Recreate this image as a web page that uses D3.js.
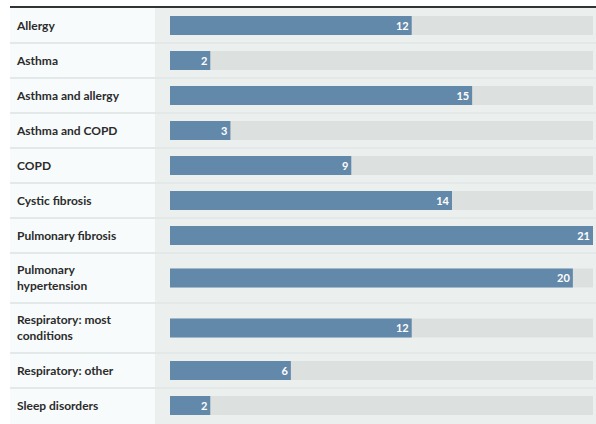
<!DOCTYPE html>
<html><head><meta charset="utf-8">
<script src="https://cdn.jsdelivr.net/npm/d3@7"></script>
<style>
html,body{margin:0;padding:0;background:#fff;}
svg{display:block;}
</style>
</head><body>
<svg id="chart" width="596" height="424"></svg>
<script>
const categories = ["Allergy","Asthma","Asthma and allergy","Asthma and COPD","COPD","Cystic fibrosis","Pulmonary fibrosis","Pulmonary hypertension","Respiratory: most conditions","Respiratory: other","Sleep disorders"];
const values = [12,2,15,3,9,14,21,20,12,6,2];
const maxValue = 21;

(function () {
const W = 596, H = 424;
const leftX = 10, topY = 8, colSplit = 155, barStart = 170, barEnd = 593;
const fontFamily = "Lato, 'Open Sans', sans-serif";
const labelSize = 12;
const svg = d3.select("#chart");

const measure = svg.append("text").attr("font-family", fontFamily).attr("font-weight", 700).attr("font-size", labelSize);
function wrap(str, maxW) {
  const words = str.split(" ");
  const lines = [];
  let cur = "";
  for (const w of words) {
    const t = cur ? cur + " " + w : w;
    measure.text(t);
    if (measure.node().getComputedTextLength() > maxW && cur) { lines.push(cur); cur = w; }
    else cur = t;
  }
  lines.push(cur);
  return lines;
}
const rows = categories.map((c, i) => ({label: c, value: values[i], lines: wrap(c, 115)}));
measure.remove();

let yy = topY;
rows.forEach(r => { r.h = 35 + (r.lines.length - 1) * 15; r.y0 = yy; yy += r.h; });

svg.append("rect").attr("x", leftX).attr("y", topY).attr("width", colSplit - leftX).attr("height", H - topY).attr("fill", "#f8fbfb");
svg.append("rect").attr("x", colSplit).attr("y", topY).attr("width", W - colSplit).attr("height", H - topY).attr("fill", "#ebf0ef");

const x = d3.scaleLinear().domain([0, maxValue]).range([barStart, barEnd]);

const g = svg.append("g").selectAll("g").data(rows).join("g")
  .attr("transform", d => `translate(0,${d.y0})`);

g.filter((d, i) => i < rows.length - 1).append("rect")
  .attr("x", leftX).attr("y", d => d.h - 1).attr("width", W - leftX).attr("height", 2)
  .attr("fill", "#e3e9e8");

const barH = 19;
g.append("rect").attr("x", x(0)).attr("y", d => d.h / 2 - barH / 2)
  .attr("width", x(maxValue) - x(0)).attr("height", barH).attr("fill", "#dce1e0");
g.append("rect").attr("x", x(0)).attr("y", d => d.h / 2 - barH / 2)
  .attr("width", d => x(d.value) - x(0)).attr("height", barH).attr("fill", "#6389aa");

g.append("text").attr("x", d => x(d.value) - 3).attr("y", d => d.h / 2 + 4)
  .attr("text-anchor", "end").attr("font-family", fontFamily).attr("font-weight", 700)
  .attr("font-size", 11).attr("fill", "#fff").text(d => d.value);

const lab = g.append("text").attr("font-family", fontFamily).attr("font-weight", 700)
  .attr("font-size", labelSize).attr("fill", "#2b2b2b");
lab.each(function(d) {
  const n = d.lines.length;
  const lh = 15.5;
  const startY = d.h / 2 - (n - 1) * lh / 2 + 4;
  d3.select(this).selectAll("tspan").data(d.lines).join("tspan")
    .attr("x", 17).attr("y", (l, j) => startY + j * lh).text(l => l);
});

svg.append("rect").attr("x", leftX).attr("y", 6).attr("width", W - leftX).attr("height", 2).attr("fill", "#333");
})();
</script>
</body></html>
